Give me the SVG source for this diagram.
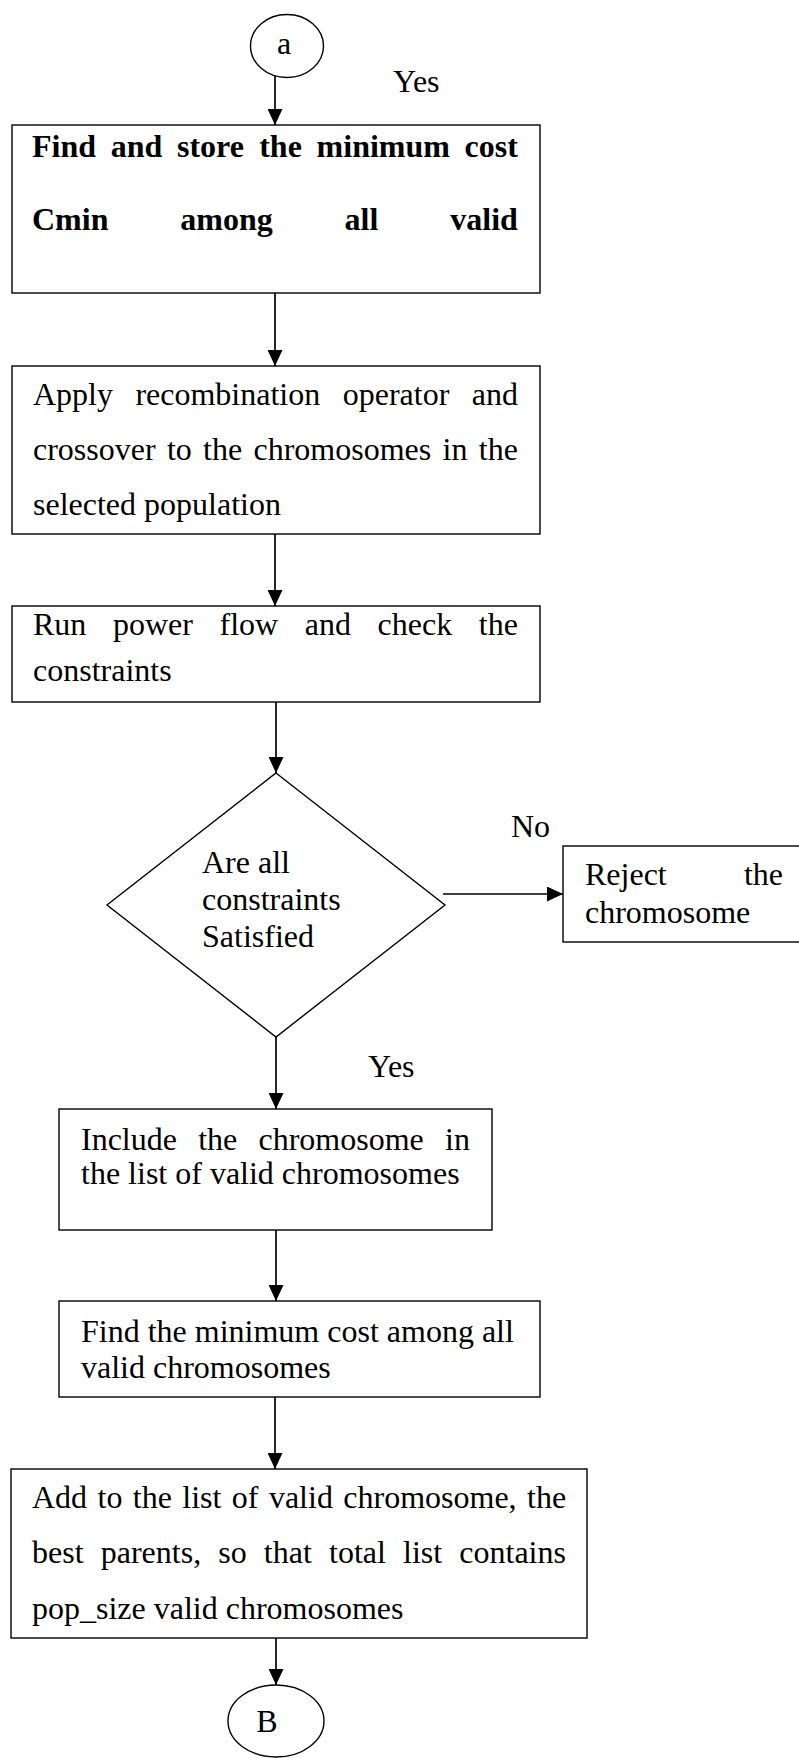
<svg xmlns="http://www.w3.org/2000/svg" width="799" height="1758" viewBox="0 0 799 1758">
<defs>
<style>
.box{fill:#fff;stroke:#000;stroke-width:1.4}
.t{font-family:"Liberation Serif","Times New Roman",serif;font-size:32px;fill:#000}
.b{font-weight:bold}
.c{stroke:#000;stroke-width:1.7;fill:none}
</style>
<marker id="ah" markerUnits="userSpaceOnUse" markerWidth="16" markerHeight="15" refX="16" refY="7.5" orient="auto">
<path d="M0,0 L16,7.5 L0,15 z" fill="#000"/>
</marker>
</defs>
<rect width="799" height="1758" fill="#fff"/>

<g id="connectors">
<line class="c" x1="275" y1="76" x2="275" y2="125" marker-end="url(#ah)"/>
<line class="c" x1="275" y1="293" x2="275" y2="366" marker-end="url(#ah)"/>
<line class="c" x1="275" y1="534" x2="275" y2="606" marker-end="url(#ah)"/>
<line class="c" x1="276" y1="702" x2="276" y2="773" marker-end="url(#ah)"/>
<line class="c" x1="443" y1="894" x2="563" y2="894" marker-end="url(#ah)"/>
<line class="c" x1="276" y1="1037" x2="276" y2="1109" marker-end="url(#ah)"/>
<line class="c" x1="276" y1="1230" x2="276" y2="1301" marker-end="url(#ah)"/>
<line class="c" x1="275" y1="1397" x2="275" y2="1469" marker-end="url(#ah)"/>
<line class="c" x1="276" y1="1638" x2="276" y2="1685" marker-end="url(#ah)"/>
<text class="t" x="393" y="92">Yes</text>
<text class="t" x="511" y="837">No</text>
<text class="t" x="368" y="1077">Yes</text>
</g>

<g id="start-a">
<ellipse class="box" cx="287" cy="46" rx="36.5" ry="31.5"/>
<text class="t" x="284" y="54" text-anchor="middle">a</text>
</g>

<g id="find-store">
<rect class="box" x="12" y="125" width="528" height="168"/>
<text class="t b" y="157"><tspan x="32">Find</tspan><tspan x="110.7">and</tspan><tspan x="177">store</tspan><tspan x="259.2">the</tspan><tspan x="316.6">minimum</tspan><tspan x="464.6">cost</tspan></text>
<text class="t b" y="230"><tspan x="32">Cmin</tspan><tspan x="180.3">among</tspan><tspan x="344.6">all</tspan><tspan x="450.3">valid</tspan></text>
</g>

<g id="recombination">
<rect class="box" x="12" y="366" width="528" height="168"/>
<text class="t" y="405"><tspan x="33">Apply</tspan><tspan x="135.4">recombination</tspan><tspan x="342.7">operator</tspan><tspan x="471.7">and</tspan></text>
<text class="t" y="460"><tspan x="33">crossover</tspan><tspan x="166.9">to</tspan><tspan x="203.1">the</tspan><tspan x="253.5">chromosomes</tspan><tspan x="442.6">in</tspan><tspan x="478.8">the</tspan></text>
<text class="t" x="33" y="515">selected population</text>
</g>

<g id="power-flow">
<rect class="box" x="12" y="606" width="528" height="96"/>
<text class="t" y="635"><tspan x="33">Run</tspan><tspan x="112.9">power</tspan><tspan x="219.5">flow</tspan><tspan x="304.8">and</tspan><tspan x="377.6">check</tspan><tspan x="478.8">the</tspan></text>
<text class="t" x="33" y="681">constraints</text>
</g>

<g id="decision">
<polygon class="box" points="276,773 445,905 276,1037 107,905"/>
<text class="t" x="202" y="873">Are all</text>
<text class="t" x="202" y="910">constraints</text>
<text class="t" x="202" y="947">Satisfied</text>
</g>

<g id="reject">
<rect class="box" x="563" y="846" width="245" height="96"/>
<text class="t" y="885"><tspan x="585">Reject</tspan><tspan x="743.9">the</tspan></text>
<text class="t" x="585" y="923">chromosome</text>
</g>

<g id="include">
<rect class="box" x="59" y="1109" width="433" height="121"/>
<text class="t" y="1150"><tspan x="81">Include</tspan><tspan x="198.2">the</tspan><tspan x="258.5">chromosome</tspan><tspan x="445">in</tspan></text>
<text class="t" x="81" y="1184">the list of valid chromosomes</text>
</g>

<g id="find-min">
<rect class="box" x="59" y="1301" width="481" height="96"/>
<text class="t" x="81" y="1342">Find the minimum cost among all</text>
<text class="t" x="81" y="1378">valid chromosomes</text>
</g>

<g id="add-parents">
<rect class="box" x="11" y="1469" width="576" height="169"/>
<text class="t" y="1508"><tspan x="32">Add</tspan><tspan x="97.5">to</tspan><tspan x="132.8">the</tspan><tspan x="182.3">list</tspan><tspan x="231.8">of</tspan><tspan x="268.9">valid</tspan><tspan x="343.3">chromosome,</tspan><tspan x="527">the</tspan></text>
<text class="t" y="1563"><tspan x="32">best</tspan><tspan x="100.75">parents,</tspan><tspan x="218.3">so</tspan><tspan x="263.85">that</tspan><tspan x="329">total</tspan><tspan x="403.05">list</tspan><tspan x="459.3">contains</tspan></text>
<text class="t" x="32" y="1619">pop_size valid chromosomes</text>
</g>

<g id="end-b">
<ellipse class="box" cx="276" cy="1721" rx="48" ry="36"/>
<text class="t" x="267" y="1732" text-anchor="middle">B</text>
</g>
</svg>
